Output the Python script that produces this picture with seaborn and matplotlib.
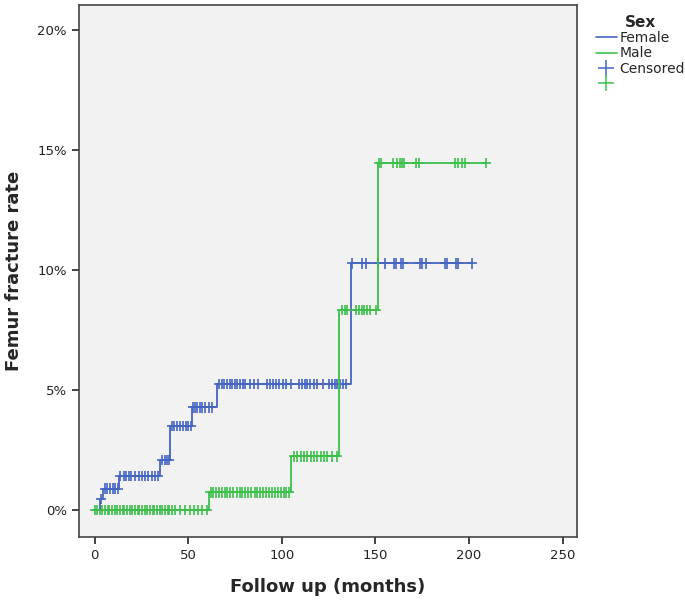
import numpy as np
import pandas as pd
import matplotlib
matplotlib.use("Agg")
import matplotlib.pyplot as plt
import seaborn as sns
from matplotlib.lines import Line2D

# step curves (months, cumulative fracture rate in %)
female_times = [0, 3.0, 4.8, 13.3, 35.2, 40.4, 51.8, 65.2, 136.7, 201.4]
female_rate = [0, 0.45, 0.89, 1.42, 2.07, 3.49, 4.27, 5.25, 10.27, 10.27]
male_times = [0, 61.0, 105.0, 130.8, 151.5, 208.9]
male_rate = [0, 0.73, 2.23, 8.34, 14.46, 14.46]

# censored follow-up times
female_censored = [3.4, 5.7, 6.9, 8.3, 9.8, 11.0, 12.3,
                   13.7, 15.5, 16.9, 18.2, 19.4, 21.7, 23.5, 25.3, 27.0, 28.8, 30.6, 32.4, 33.7,
                   36.1, 37.6, 38.8, 39.8,
                   41.5, 42.4, 44.1, 45.9, 47.2, 48.6, 50.0, 51.3,
                   52.6, 53.6, 54.8, 56.1, 57.5, 58.9, 61.1, 62.8,
                   66.4, 68.2, 69.4, 70.8, 72.3, 73.5, 74.8, 76.2, 77.6, 79.1, 80.5, 83.0, 85.1, 87.2,
                   92.2, 93.6, 95.1, 96.9, 98.5, 100.8, 102.5, 105.0, 109.3, 110.7, 112.2, 113.6,
                   115.0, 117.1, 118.9, 122.1, 125.3, 126.8, 128.2, 129.6, 131.0, 132.5, 134.1,
                   137.3, 143.0, 144.8, 151.5, 155.1, 159.9, 160.8, 163.5, 164.7, 173.8, 175.0,
                   177.1, 187.1, 188.2, 193.2, 194.2, 201.4]
male_censored = [0.5, 1.5, 3.0, 4.0, 5.5, 7.0, 8.0, 9.5, 11.0, 12.0, 13.5, 15.0, 16.0, 17.5,
                 19.0, 20.0, 21.5, 23.0, 24.0, 25.5, 27.0, 28.0, 29.5, 31.0, 32.0, 33.5, 35.0,
                 36.0, 37.5, 39.0, 40.0, 41.5, 43.0, 45.5, 48.5, 51.0, 53.0, 55.0, 57.5, 60.0,
                 62.0, 63.5, 65.0, 66.5, 68.0, 69.5, 71.0, 72.5, 74.0, 76.0, 77.5, 79.0, 80.5,
                 82.0, 83.5, 85.5, 87.0, 88.5, 90.0, 91.5, 93.0, 95.0, 96.5, 98.0, 99.5, 101.0,
                 102.5, 104.0,
                 106.5, 108.2, 110.0, 111.8, 113.6, 115.4, 117.2, 118.9, 120.7, 122.5, 124.3,
                 126.9, 129.3,
                 132.3, 133.7, 134.9, 139.7, 141.2, 142.6, 144.0, 145.5, 146.9, 150.4,
                 151.9, 152.8, 159.3, 161.6, 162.9, 164.3, 165.4, 171.5, 173.2, 192.5, 194.2,
                 196.0, 197.8, 208.9]

blue = "#4565C2"
green = "#3CC04A"

curve = pd.concat([
    pd.DataFrame({"months": female_times, "rate": female_rate, "sex": "Female"}),
    pd.DataFrame({"months": male_times, "rate": male_rate, "sex": "Male"}),
])


def rate_at(times, rates, t):
    idx = np.searchsorted(times, t, side="right") - 1
    return np.array(rates)[idx]


cens = pd.concat([
    pd.DataFrame({"months": female_censored,
                  "rate": rate_at(female_times, female_rate, female_censored), "sex": "Female"}),
    pd.DataFrame({"months": male_censored,
                  "rate": rate_at(male_times, male_rate, male_censored), "sex": "Male"}),
])

sns.set_style("ticks")
plt.rcParams["font.family"] = ["DejaVu Sans"]

fig = plt.figure(figsize=(6.85, 6.02), dpi=100)
ax = fig.add_axes([0.115, 0.108, 0.727, 0.884])
ax.set_facecolor("#F2F2F2")

pal = {"Female": blue, "Male": green}
sns.lineplot(data=curve, x="months", y="rate", hue="sex", palette=pal,
             drawstyle="steps-post", estimator=None, sort=False, legend=False,
             linewidth=1.3, ax=ax)
sns.scatterplot(data=cens, x="months", y="rate", hue="sex", palette=pal,
                marker="+", s=55, linewidth=1.2, legend=False, ax=ax)

ax.set_xlim(-8.4, 257.5)
ax.set_ylim(-1.13, 21.05)
ax.set_xticks([0, 50, 100, 150, 200, 250])
ax.set_yticks([0, 5, 10, 15, 20])
ax.set_yticklabels(["0%", "5%", "10%", "15%", "20%"])
ax.tick_params(labelsize=9.5, colors="#222222", length=5, width=1.2)
for s in ax.spines.values():
    s.set_color("#444444")
    s.set_linewidth(1.2)

ax.set_xlabel("Follow up (months)", fontsize=13, fontweight="bold", labelpad=12)
ax.set_ylabel("Femur fracture rate", fontsize=13, fontweight="bold", labelpad=10)

handles = [Line2D([], [], color=blue, lw=1.2),
           Line2D([], [], color=green, lw=1.2),
           Line2D([], [], color=blue, lw=0, marker="+", markersize=12, markeredgewidth=1.1),
           Line2D([], [], color=green, lw=0, marker="+", markersize=12, markeredgewidth=1.1)]
leg = fig.legend(handles, ["Female", "Male", "Censored", ""], title="Sex",
                 loc="upper left", bbox_to_anchor=(0.862, 0.985), frameon=False,
                 fontsize=10, handlelength=1.5, handletextpad=0.2, labelspacing=0.1,
                 borderaxespad=0)
leg.get_title().set_fontweight("bold")
leg.get_title().set_fontsize(11)

fig.savefig("out.png", dpi=100)
